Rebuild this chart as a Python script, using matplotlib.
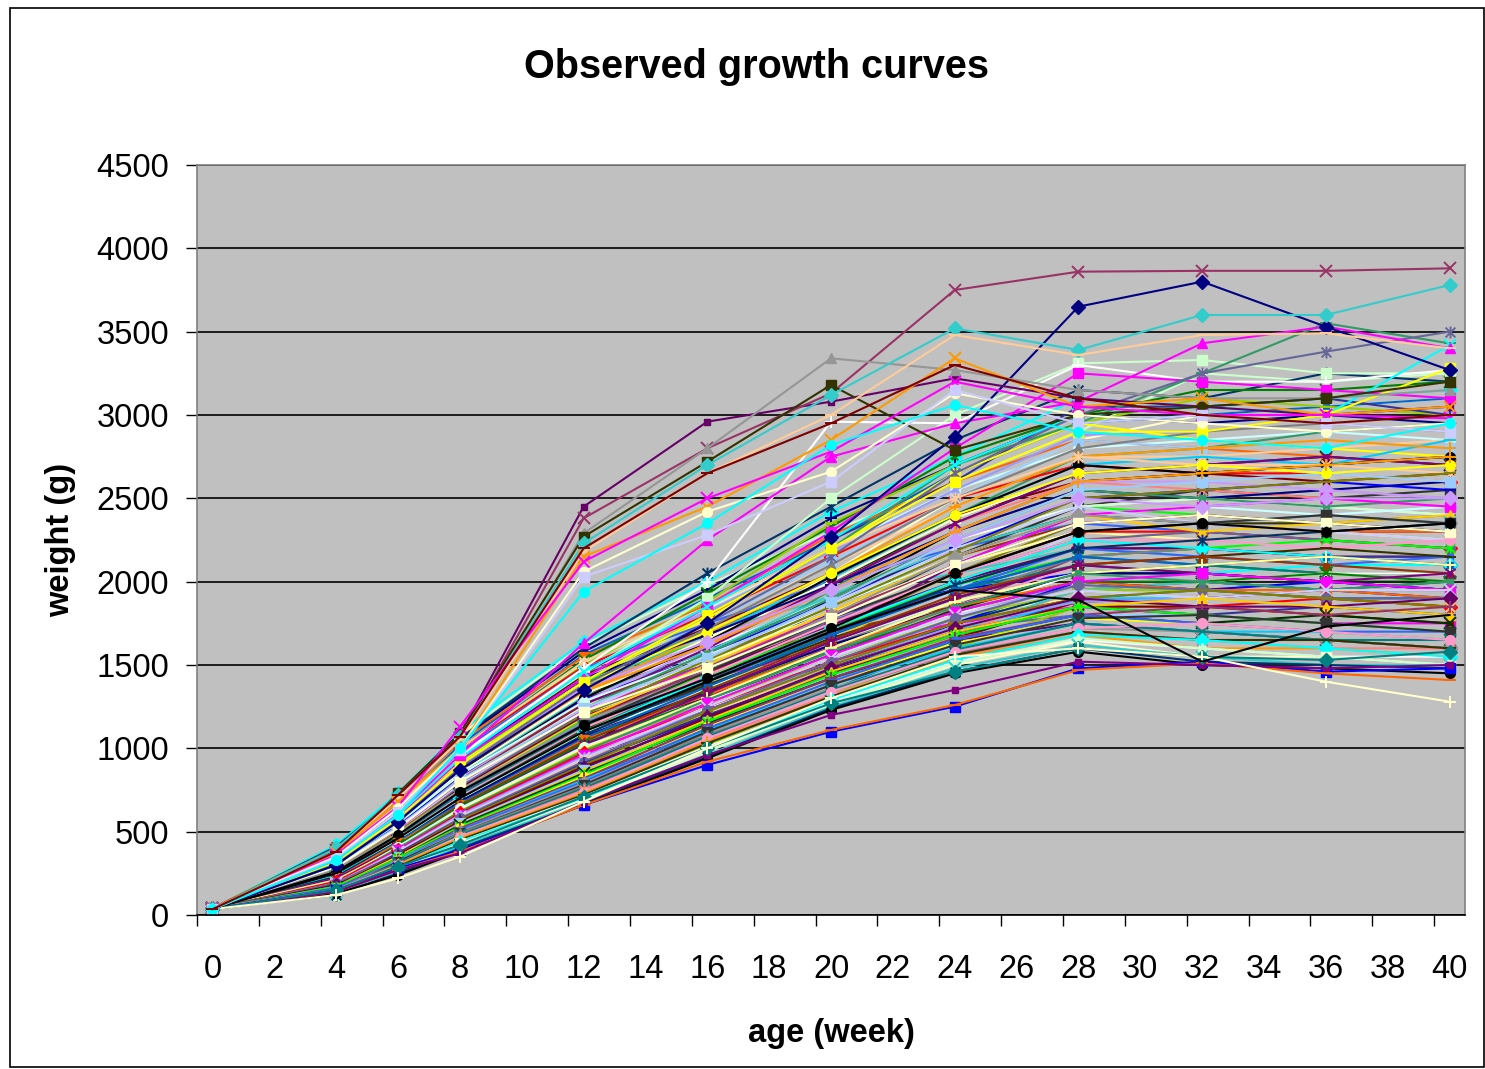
import matplotlib
matplotlib.use("Agg")
import matplotlib.pyplot as plt
from matplotlib.path import Path
from matplotlib.patches import Rectangle
from matplotlib.ticker import FixedLocator

plt.rcParams['font.family'] = ['Liberation Sans', 'DejaVu Sans']

# ---------------------------------------------------------------- data
weeks = [0, 4, 6, 8, 12, 16, 20, 24, 28, 32, 36, 40]
x_tick_labels = list(range(0, 41, 2))
y_ticks = list(range(0, 4501, 500))

# birds that were already very heavy by week 12
early_fast = [
    [35, 380, 700, 1080, 2450, 2960, 3080, 3220, 3100, 3050, 3000, 3050],
    [35, 390, 690, 1060, 2380, 2800, 3130, 3750, 3860, 3865, 3865, 3880],
    [35, 370, 680, 1050, 2290, 2800, 3340, 3270, 3150, 3100, 3100, 3150],
    [35, 360, 730, 1090, 2270, 2720, 3180, 2790, 3000, 3050, 3100, 3200],
    [35, 400, 720, 1070, 2230, 2700, 3120, 3520, 3390, 3600, 3600, 3780],
    [35, 380, 700, 1050, 2180, 2650, 3000, 3480, 3360, 3480, 3490, 3400],
    [35, 370, 680, 1000, 2150, 2450, 2850, 3340, 3050, 3100, 3000, 3050],
    [35, 360, 650, 1130, 2120, 2500, 2780, 3200, 3050, 3000, 3000, 2980],
    [35, 350, 640, 1000, 2060, 2420, 2660, 3130, 3000, 2950, 2900, 2950],
    [35, 340, 620, 990, 2030, 2280, 2600, 3150, 2950, 3000, 2950, 2900],
    [35, 330, 600, 1000, 1940, 2350, 2820, 3060, 2900, 2850, 2800, 2950],
    [35, 380, 720, 1070, 2200, 2650, 2950, 3300, 3100, 3000, 2950, 3000],
]

# birds that kept gaining after week 24
late_risers = [
    [36, 330, 600, 950, 1450, 1900, 2500, 3000, 3310, 3330, 3250, 3250],
    [38, 340, 620, 960, 1480, 2000, 2960, 2950, 3300, 3200, 3200, 3270],
    [35, 320, 590, 930, 1420, 1850, 2300, 2800, 3250, 3200, 3150, 3100],
    [37, 310, 580, 900, 1400, 1800, 2200, 2700, 2950, 3250, 3550, 3430],
    [36, 330, 600, 940, 1460, 1850, 2250, 2700, 3000, 3050, 3000, 3420],
    [36, 300, 570, 880, 1380, 1750, 2150, 2650, 3000, 3250, 3380, 3500],
    [38, 320, 580, 900, 1400, 1800, 2200, 2600, 2900, 2900, 3000, 3280],
    [37, 330, 610, 960, 1630, 2250, 2750, 2950, 3080, 3430, 3530, 3400],
    [38, 300, 560, 870, 1350, 1750, 2270, 2870, 3650, 3800, 3530, 3270],
    [38, 250, 460, 700, 1100, 1400, 1700, 1950, 1890, 1520, 1730, 1800],
]

# the bulk of the flock
main_flock = [
    [40, 420, 730, 1100, 1640, 2000, 2420, 2750, 3100, 3050, 3100, 3150],
    [38, 400, 700, 1080, 1620, 1980, 2300, 2600, 2900, 3250, 3200, 3250],
    [36, 410, 710, 1060, 1600, 2050, 2450, 2850, 3150, 3100, 3250, 3200],
    [40, 390, 690, 1050, 1580, 1950, 2380, 2700, 3000, 2950, 3000, 2950],
    [35, 380, 660, 1020, 1560, 1900, 2250, 2650, 2950, 3000, 3050, 3100],
    [42, 400, 680, 1040, 1550, 1860, 2280, 2600, 2850, 2800, 2750, 2700],
    [37, 370, 650, 1000, 1530, 1930, 2330, 2750, 3000, 3150, 3150, 3200],
    [39, 360, 640, 990, 1510, 1840, 2200, 2550, 2800, 2850, 2900, 2850],
    [34, 350, 620, 980, 1500, 1880, 2350, 2700, 2950, 3100, 3050, 3000],
    [40, 380, 660, 1000, 1490, 1800, 2150, 2500, 2700, 2650, 2650, 2600],
    [36, 340, 610, 960, 1470, 1820, 2180, 2550, 2880, 2900, 3000, 3050],
    [41, 360, 630, 970, 1460, 1760, 2100, 2450, 2750, 2750, 2800, 2850],
    [35, 330, 600, 950, 1450, 1850, 2250, 2600, 3050, 3050, 3100, 3000],
    [38, 350, 620, 940, 1440, 1720, 2050, 2400, 2600, 2650, 2600, 2650],
    [40, 320, 590, 930, 1420, 1750, 2120, 2500, 2850, 2800, 2850, 2800],
    [33, 340, 600, 920, 1410, 1700, 2000, 2350, 2650, 2700, 2750, 2700],
    [39, 330, 580, 910, 1400, 1780, 2200, 2650, 2950, 2850, 2800, 2750],
    [36, 310, 570, 900, 1380, 1680, 2020, 2400, 2700, 2750, 2700, 2850],
    [42, 320, 590, 890, 1370, 1650, 1950, 2300, 2550, 2500, 2550, 2500],
    [37, 300, 560, 880, 1360, 1720, 2100, 2500, 2800, 2900, 2950, 2900],
    [35, 320, 570, 870, 1350, 1630, 1980, 2350, 2600, 2550, 2500, 2450],
    [40, 290, 550, 860, 1340, 1690, 2050, 2450, 2750, 2800, 2850, 2800],
    [38, 310, 560, 850, 1330, 1600, 1900, 2250, 2450, 2500, 2450, 2400],
    [34, 300, 540, 850, 1320, 1660, 2000, 2380, 2650, 2700, 2650, 2600],
    [41, 290, 550, 840, 1310, 1580, 1920, 2200, 2400, 2350, 2400, 2350],
    [36, 300, 530, 830, 1300, 1640, 2030, 2400, 2700, 2650, 2700, 2750],
    [39, 280, 540, 820, 1290, 1560, 1880, 2200, 2500, 2550, 2600, 2550],
    [35, 290, 520, 820, 1280, 1620, 1950, 2300, 2600, 2600, 2550, 2500],
    [40, 270, 530, 810, 1270, 1540, 1850, 2150, 2350, 2400, 2350, 2300],
    [37, 280, 510, 800, 1260, 1600, 1980, 2350, 2650, 2700, 2750, 2700],
    [34, 290, 520, 800, 1250, 1520, 1820, 2100, 2300, 2250, 2300, 2250],
    [39, 270, 500, 790, 1240, 1570, 1900, 2250, 2550, 2500, 2450, 2500],
    [36, 260, 510, 780, 1230, 1500, 1800, 2100, 2400, 2450, 2500, 2450],
    [41, 280, 500, 780, 1220, 1550, 1870, 2200, 2450, 2350, 2300, 2250],
    [35, 260, 490, 770, 1210, 1480, 1760, 2050, 2250, 2300, 2250, 2200],
    [38, 270, 500, 760, 1200, 1530, 1850, 2180, 2500, 2550, 2600, 2650],
    [40, 250, 480, 760, 1190, 1460, 1740, 2000, 2200, 2200, 2150, 2100],
    [34, 260, 490, 750, 1180, 1500, 1820, 2150, 2400, 2300, 2350, 2400],
    [37, 250, 470, 740, 1170, 1440, 1720, 1980, 2150, 2200, 2250, 2200],
    [39, 240, 480, 740, 1160, 1480, 1800, 2100, 2350, 2400, 2350, 2300],
    [36, 250, 470, 730, 1150, 1420, 1700, 1950, 2200, 2150, 2100, 2150],
    [41, 240, 460, 720, 1140, 1460, 1780, 2050, 2300, 2350, 2400, 2350],
    [35, 230, 470, 720, 1130, 1400, 1680, 1950, 2150, 2100, 2050, 2000],
    [38, 250, 460, 710, 1120, 1440, 1750, 2050, 2250, 2250, 2200, 2250],
    [40, 230, 450, 700, 1110, 1380, 1660, 1900, 2100, 2150, 2200, 2150],
    [34, 240, 440, 700, 1100, 1420, 1720, 2000, 2250, 2200, 2150, 2100],
    [37, 220, 450, 690, 1090, 1360, 1640, 1880, 2050, 2000, 2050, 2000],
    [39, 230, 440, 680, 1080, 1400, 1700, 1980, 2200, 2250, 2300, 2350],
    [36, 220, 430, 680, 1070, 1340, 1620, 1850, 2050, 2050, 2000, 1950],
    [41, 210, 440, 670, 1060, 1370, 1680, 1950, 2150, 2100, 2150, 2100],
    [35, 220, 430, 660, 1050, 1320, 1600, 1850, 2000, 1950, 1950, 1900],
    [38, 210, 420, 660, 1040, 1350, 1650, 1920, 2100, 2150, 2100, 2050],
    [40, 200, 420, 650, 1030, 1300, 1580, 1820, 2000, 2000, 2050, 2000],
    [34, 220, 410, 640, 1020, 1330, 1640, 1900, 2100, 2050, 2000, 2050],
    [37, 200, 410, 640, 1010, 1280, 1550, 1800, 1950, 1900, 1850, 1900],
    [39, 210, 400, 630, 1000, 1300, 1600, 1880, 2050, 2100, 2150, 2100],
    [36, 200, 400, 620, 990, 1270, 1540, 1780, 1950, 1950, 1900, 1850],
    [41, 190, 400, 620, 980, 1290, 1580, 1850, 2050, 2000, 1950, 2000],
    [35, 200, 390, 610, 970, 1250, 1520, 1750, 1900, 1850, 1900, 1850],
    [38, 190, 390, 600, 960, 1270, 1560, 1820, 2000, 2050, 2000, 1950],
    [40, 180, 380, 600, 950, 1230, 1500, 1730, 1880, 1900, 1850, 1800],
    [34, 190, 380, 590, 940, 1250, 1540, 1800, 1950, 1900, 1950, 1950],
    [37, 180, 370, 580, 930, 1210, 1480, 1720, 1900, 1850, 1800, 1850],
    [39, 190, 370, 580, 920, 1230, 1520, 1780, 1980, 1950, 1900, 1900],
    [36, 170, 370, 570, 910, 1200, 1460, 1700, 1850, 1800, 1850, 1800],
    [41, 180, 360, 570, 900, 1220, 1500, 1750, 1900, 1950, 1900, 1850],
    [35, 170, 360, 560, 890, 1180, 1450, 1680, 1850, 1850, 1800, 1750],
    [38, 180, 350, 550, 880, 1190, 1480, 1720, 1900, 1850, 1850, 1900],
    [40, 160, 350, 550, 870, 1160, 1430, 1660, 1800, 1800, 1750, 1700],
    [34, 170, 350, 540, 860, 1170, 1460, 1700, 1850, 1900, 1850, 1800],
    [37, 160, 340, 540, 850, 1150, 1420, 1650, 1800, 1750, 1800, 1750],
    [39, 170, 340, 530, 840, 1160, 1440, 1680, 1850, 1800, 1750, 1700],
    [36, 150, 330, 520, 830, 1130, 1400, 1630, 1780, 1750, 1700, 1650],
    [41, 160, 330, 520, 820, 1140, 1420, 1660, 1800, 1850, 1800, 1850],
    [35, 150, 330, 510, 810, 1110, 1380, 1600, 1750, 1700, 1700, 1650],
    [38, 160, 320, 510, 800, 1120, 1400, 1650, 1800, 1750, 1700, 1700],
    [40, 150, 320, 500, 790, 1090, 1360, 1580, 1720, 1700, 1650, 1600],
    [34, 140, 320, 490, 780, 1100, 1380, 1620, 1780, 1800, 1750, 1700],
    [37, 150, 310, 490, 770, 1080, 1340, 1570, 1700, 1650, 1650, 1600],
    [39, 140, 310, 480, 760, 1070, 1350, 1590, 1750, 1700, 1650, 1650],
    [36, 140, 300, 470, 750, 1050, 1320, 1550, 1700, 1650, 1600, 1600],
    [41, 150, 300, 470, 740, 1060, 1340, 1580, 1720, 1750, 1700, 1650],
    [35, 130, 300, 460, 730, 1040, 1300, 1540, 1680, 1600, 1600, 1550],
    [38, 140, 290, 450, 720, 1030, 1310, 1560, 1700, 1650, 1650, 1600],
    [40, 130, 280, 440, 710, 1010, 1280, 1520, 1650, 1600, 1550, 1550],
    [34, 140, 280, 440, 700, 1000, 1290, 1530, 1680, 1650, 1600, 1550],
    [37, 130, 270, 430, 690, 990, 1260, 1500, 1640, 1550, 1550, 1500],
    [39, 120, 260, 420, 680, 980, 1270, 1510, 1660, 1600, 1550, 1500],
    [36, 130, 260, 410, 680, 960, 1250, 1480, 1620, 1550, 1500, 1500],
    [40, 120, 250, 400, 670, 950, 1240, 1460, 1600, 1520, 1500, 1480],
    [35, 130, 240, 380, 660, 940, 1230, 1450, 1580, 1500, 1480, 1450],
]

# birds whose rank in the flock shifted over time
crossing_flock = [
    [40, 300, 520, 800, 1150, 1600, 2050, 2500, 2850, 3000, 3050, 3100],
    [37, 380, 650, 950, 1450, 1700, 1900, 2050, 2200, 2150, 2100, 2050],
    [36, 200, 380, 600, 1000, 1450, 1900, 2300, 2600, 2650, 2700, 2750],
    [41, 350, 600, 900, 1350, 1600, 1800, 1950, 2050, 2000, 1950, 1900],
    [38, 250, 450, 700, 1050, 1350, 1750, 2200, 2500, 2450, 2500, 2450],
    [35, 330, 580, 880, 1300, 1500, 1700, 1850, 2000, 1950, 1900, 1850],
    [39, 180, 350, 560, 900, 1300, 1700, 2100, 2400, 2350, 2300, 2300],
    [36, 310, 560, 850, 1250, 1450, 1650, 1800, 1900, 1850, 1800, 1750],
    [40, 230, 430, 680, 1100, 1500, 1950, 2400, 2750, 2800, 2900, 2950],
    [37, 290, 520, 790, 1200, 1420, 1600, 1750, 1850, 1800, 1750, 1750],
    [35, 160, 330, 520, 850, 1200, 1550, 1950, 2300, 2350, 2400, 2450],
    [41, 270, 500, 760, 1150, 1380, 1580, 1720, 1800, 1750, 1700, 1650],
    [38, 220, 420, 650, 1000, 1350, 1700, 2050, 2350, 2400, 2350, 2400],
    [36, 260, 480, 730, 1100, 1300, 1500, 1650, 1750, 1700, 1650, 1600],
    [39, 200, 390, 610, 950, 1280, 1650, 2000, 2250, 2300, 2250, 2200],
    [40, 340, 600, 920, 1400, 1650, 1950, 2250, 2450, 2400, 2350, 2300],
    [35, 150, 300, 480, 800, 1120, 1480, 1850, 2150, 2200, 2150, 2150],
    [37, 360, 640, 980, 1480, 1750, 2000, 2200, 2350, 2300, 2250, 2200],
    [38, 240, 450, 700, 1080, 1400, 1780, 2150, 2450, 2550, 2500, 2550],
    [41, 300, 540, 830, 1270, 1500, 1750, 1950, 2100, 2050, 2000, 1950],
    [36, 210, 400, 630, 980, 1250, 1550, 1850, 2100, 2150, 2200, 2250],
    [39, 320, 570, 860, 1320, 1580, 1900, 2200, 2400, 2350, 2350, 2300],
    [35, 170, 340, 540, 860, 1150, 1450, 1750, 2000, 2050, 2100, 2100],
    [40, 280, 510, 780, 1200, 1500, 1850, 2200, 2450, 2500, 2450, 2400],
    [37, 190, 370, 590, 930, 1200, 1480, 1750, 1950, 2000, 1950, 2000],
    [38, 350, 620, 940, 1420, 1680, 1980, 2300, 2550, 2500, 2550, 2600],
    [36, 140, 290, 460, 760, 1050, 1350, 1650, 1900, 1950, 1900, 1900],
    [41, 260, 470, 720, 1120, 1400, 1700, 2000, 2250, 2250, 2300, 2300],
    [39, 230, 440, 690, 1060, 1330, 1600, 1850, 2050, 2100, 2050, 2050],
    [35, 310, 550, 840, 1280, 1560, 1850, 2150, 2400, 2450, 2400, 2450],
    [40, 130, 270, 430, 720, 1020, 1320, 1600, 1850, 1850, 1800, 1850],
    [37, 280, 500, 770, 1180, 1450, 1750, 2050, 2300, 2300, 2250, 2200],
    [36, 200, 380, 600, 950, 1220, 1500, 1780, 2000, 1950, 1950, 1950],
    [38, 370, 660, 1000, 1520, 1850, 2200, 2500, 2750, 2700, 2700, 2650],
    [41, 250, 460, 710, 1090, 1370, 1680, 1980, 2200, 2200, 2150, 2150],
    [35, 160, 320, 500, 820, 1100, 1380, 1660, 1880, 1900, 1950, 1950],
    [39, 300, 530, 810, 1240, 1540, 1880, 2250, 2550, 2600, 2650, 2600],
    [40, 220, 410, 640, 1010, 1280, 1560, 1830, 2050, 2050, 2000, 2000],
    [36, 340, 600, 910, 1380, 1700, 2050, 2400, 2650, 2700, 2650, 2700],
    [37, 180, 350, 560, 880, 1150, 1420, 1680, 1900, 1900, 1850, 1800],
    [38, 270, 490, 750, 1160, 1460, 1800, 2150, 2400, 2350, 2400, 2350],
    [35, 240, 450, 700, 1070, 1340, 1620, 1900, 2150, 2200, 2150, 2100],
    [41, 150, 310, 490, 800, 1090, 1380, 1680, 1950, 2000, 2050, 2000],
    [39, 320, 580, 880, 1340, 1620, 1950, 2300, 2600, 2650, 2700, 2750],
    [36, 210, 400, 620, 970, 1240, 1520, 1800, 2050, 2000, 2050, 2050],
    [40, 290, 520, 800, 1220, 1480, 1780, 2100, 2350, 2400, 2350, 2300],
    [37, 170, 330, 520, 840, 1120, 1400, 1700, 1950, 2000, 1950, 1950],
    [38, 260, 480, 740, 1140, 1420, 1720, 2050, 2300, 2350, 2300, 2350],
    [35, 190, 370, 580, 920, 1190, 1460, 1750, 2000, 1950, 2000, 1950],
    [41, 330, 590, 900, 1360, 1640, 1950, 2250, 2500, 2450, 2500, 2500],
]

# the lightest birds
light_birds = [
    [38, 150, 280, 390, 660, 900, 1100, 1250, 1480, 1520, 1460, 1480],
    [35, 140, 270, 380, 660, 920, 1110, 1260, 1470, 1510, 1450, 1410],
    [36, 140, 270, 370, 680, 960, 1200, 1350, 1520, 1500, 1480, 1500],
    [37, 150, 290, 420, 710, 1000, 1270, 1460, 1600, 1550, 1530, 1580],
    [35, 120, 220, 350, 680, 1000, 1300, 1550, 1600, 1550, 1400, 1280],
]

# ---------------------------------------------------------------- styles
# spreadsheet-style chart palette for series lines
palette = [
    '#000080', '#FF00FF', '#FFFF00', '#00FFFF', '#800080', '#800000', '#008080', '#0000FF',
    '#9999FF', '#993366', '#FFFFCC', '#CCFFFF', '#660066', '#FF8080', '#0066CC', '#CCCCFF',
    '#00CCFF', '#CCFFCC', '#FFFF99', '#99CCFF', '#FF99CC', '#CC99FF', '#FFCC99', '#3366FF',
    '#33CCCC', '#99CC00', '#FFCC00', '#FF9900', '#FF6600', '#666699', '#969696', '#003366',
    '#339966', '#003300', '#333300', '#993300', '#333399', '#333333', '#000000', '#FF0000',
    '#00FF00', '#FFFFFF', '#008000', '#808000', '#808080',
]

# asterisk marker: an X crossed by a vertical bar
STAR = Path([(-1, -1), (1, 1), (-1, 1), (1, -1), (0, -1.2), (0, 1.2)],
            [Path.MOVETO, Path.LINETO, Path.MOVETO, Path.LINETO, Path.MOVETO, Path.LINETO])
DASH = '_'
DOT = 'dot'
marker_cycle = ['D', 's', '^', 'x', STAR, 'o', '+', DASH, DOT]

early_colors = ['#660066', '#993366', '#969696', '#333300', '#33CCCC', '#FFCC99',
                '#FF9900', '#FF00FF', '#FFFFCC', '#CCCCFF', '#00FFFF', '#800000']
early_markers = [DOT, 'x', '^', 's', 'D', DASH, 'x', 'x', 'o', 's', 'o', DASH]

late_colors = ['#CCFFCC', '#FFFFFF', '#FF00FF', '#339966', '#00FFFF', '#666699',
               '#FFFF00', '#FF00FF', '#000080', '#000000']
late_markers = ['s', '+', 's', DASH, 'x', STAR, 's', '^', 'D', None]

light_colors = ['#0000FF', '#FF6600', '#800080', '#008080', '#FFFFCC']
light_markers = ['s', DASH, DOT, 'D', '+']

# ---------------------------------------------------------------- figure
fig = plt.figure(figsize=(14.85, 10.69), dpi=100)
ax = fig.add_axes([197 / 1485, 154 / 1069, 1268 / 1485, 750 / 1069])
ax.set_facecolor('#C0C0C0')


def draw(values, color, marker):
    kw = dict(color=color, lw=1.5, solid_joinstyle='miter')
    if marker is None:
        ax.plot(weeks, values, **kw)
        return
    if marker == DOT:
        kw.update(marker='s', ms=4, mfc=color, mec=color)
    elif marker in ('x', '+', DASH) or marker is STAR:
        kw.update(marker=marker, ms=8.5, mec=color, mew=1.4)
    elif marker == 'D':
        kw.update(marker='D', ms=7, mfc=color, mec=color)
    else:
        kw.update(marker=marker, ms=7, mfc=color, mec=color)
    ax.plot(weeks, values, **kw)


# interleave the two bulk groups so colours mix through the bundle
bulk = []
for i in range(max(len(main_flock), len(crossing_flock))):
    if i < len(main_flock):
        bulk.append(main_flock[i])
    if i < len(crossing_flock):
        bulk.append(crossing_flock[i])

for i, row in enumerate(bulk):
    draw(row, palette[(i * 7 + 3) % len(palette)], marker_cycle[i % len(marker_cycle)])
for row, c, m in zip(light_birds, light_colors, light_markers):
    draw(row, c, m)
for row, c, m in zip(late_risers, late_colors, late_markers):
    draw(row, c, m)
for row, c, m in zip(early_fast, early_colors, early_markers):
    draw(row, c, m)

# axes, ticks and grid
ax.set_xlim(-0.5, 40.5)
ax.set_ylim(0, 4500)
ax.set_yticks(y_ticks)
ax.set_yticklabels([str(v) for v in y_ticks])
ax.yaxis.grid(True, color='black', lw=1.2)
ax.set_axisbelow(True)
ax.set_xticks(x_tick_labels)
ax.set_xticklabels([str(v) for v in x_tick_labels])
ax.xaxis.set_minor_locator(FixedLocator([v - 0.5 for v in range(0, 41, 2)]))
ax.tick_params(axis='x', which='major', length=0, pad=28, labelsize=23.5)
ax.tick_params(axis='x', which='minor', length=8, width=1, color='black', direction='out')
ax.tick_params(axis='y', which='major', length=8, width=1, color='black',
               direction='out', pad=12, labelsize=23.5)

for side in ('top', 'right', 'left'):
    ax.spines[side].set_color('#808080')
    ax.spines[side].set_linewidth(1.2)
ax.spines['bottom'].set_color('black')
ax.spines['bottom'].set_linewidth(1.2)

ax.set_xlabel('age (week)', fontsize=23.5, fontweight='bold', labelpad=24)
ax.set_ylabel('weight (g)', fontsize=23.5, fontweight='bold', labelpad=15)
fig.text(757 / 1485, 1 - 67 / 1069, 'Observed growth curves', ha='center', va='center',
         fontsize=28.5, fontweight='bold')

# outer chart frame
fig.patches.append(Rectangle((10 / 1485, 2 / 1069), 1474 / 1485, 1059 / 1069,
                             transform=fig.transFigure, fill=False, ec='black', lw=1.2))

fig.savefig('out.png', dpi=100)
